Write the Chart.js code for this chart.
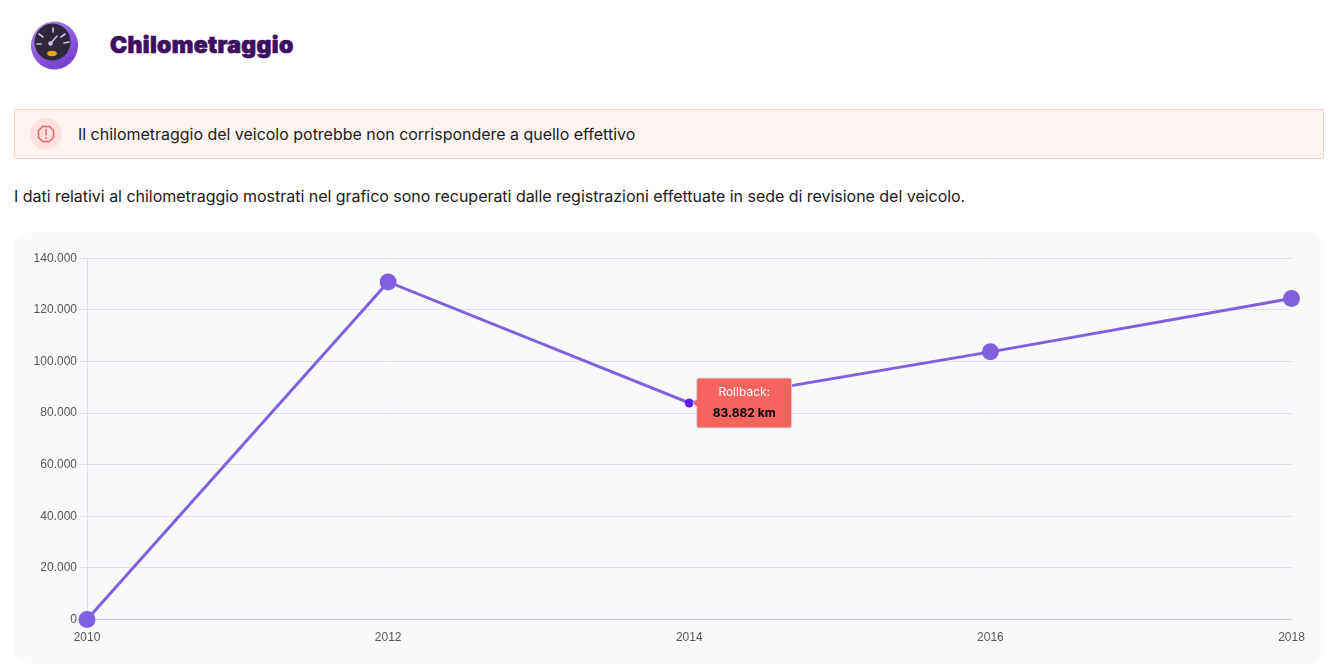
<!DOCTYPE html>
<html lang="it">
<head>
<meta charset="utf-8">
<title>Chilometraggio</title>
<script src="https://cdn.jsdelivr.net/npm/chart.js@4"></script>
<style>
  html, body { margin: 0; padding: 0; background: #fff; overflow: hidden; }
  body { width: 1343px; height: 669px; position: relative; font-family: Inter, sans-serif; color: #1c1a22; }
  .icon { position: absolute; left: 28px; top: 20px; width: 52px; height: 52px; }
  h1 { position: absolute; left: 110px; top: 30px; margin: 0; font: 900 23px/30px Inter, sans-serif; color: #3b1160; -webkit-text-stroke: 0.7px #3b1160; letter-spacing: 0.33px; }
  .alert { position: absolute; left: 14px; top: 109px; width: 1308px; height: 48px; background: #fff4f2; border: 1px solid #fdd0cc; border-radius: 2px; }
  .alert .badge { position: absolute; left: 15px; top: 8px; width: 32px; height: 32px; }
  .alert span { position: absolute; left: 63px; top: 0; line-height: 49px; font-size: 16px; letter-spacing: -0.02px; }
  p { position: absolute; left: 14px; top: 184px; margin: 0; font-size: 16px; line-height: 24px; letter-spacing: -0.03px; }
  .card { position: absolute; left: 14px; top: 232px; width: 1310px; height: 432px; background: #f9fafc; border-radius: 16px; }
  canvas { display: block; }
</style>
</head>
<body>
<svg class="icon" viewBox="0 0 52 52">
  <defs>
    <linearGradient id="ring" x1="0" y1="0" x2="1" y2="1">
      <stop offset="0" stop-color="#b08ee8"/><stop offset="0.55" stop-color="#8a55dc"/><stop offset="1" stop-color="#6a35c4"/>
    </linearGradient>
  </defs>
  <ellipse cx="26.5" cy="25.5" rx="23.5" ry="24" transform="rotate(15 26.5 25.5)" fill="url(#ring)"/>
  <ellipse cx="24.5" cy="22" rx="18" ry="18.5" transform="rotate(15 24.5 22)" fill="#2e2838"/>
  <g stroke="#cdbff0" stroke-width="1.6" stroke-linecap="round">
    <line x1="11" y1="14" x2="15" y2="17"/><line x1="25" y1="8" x2="25" y2="12"/>
    <line x1="37" y1="14" x2="33" y2="17"/><line x1="9" y1="24" x2="13" y2="24"/><line x1="41" y1="22" x2="36" y2="23"/>
    <line x1="23" y1="23" x2="29" y2="16"/>
  </g>
  <circle cx="22.5" cy="23.5" r="2.2" fill="#cdbff0"/>
  <ellipse cx="24" cy="33.5" rx="4.8" ry="2.8" fill="#e5a80f"/>
</svg>
<h1>Chilometraggio</h1>
<div class="alert">
  <svg class="badge" viewBox="0 0 32 32">
    <circle cx="16" cy="16" r="16" fill="#ffe1de"/>
    <path d="M12.6 8.5h6.8l4.1 4.1v6.8l-4.1 4.1h-6.8l-4.1-4.1v-6.8z" fill="none" stroke="#f4615c" stroke-width="1.4" stroke-linejoin="round"/>
    <path d="M16 11.5v5.5" stroke="#f4615c" stroke-width="1.5" stroke-linecap="round"/>
    <circle cx="16" cy="20" r="0.9" fill="#f4615c"/>
  </svg>
  <span>Il chilometraggio del veicolo potrebbe non corrispondere a quello effettivo</span>
</div>
<p>I dati relativi al chilometraggio mostrati nel grafico sono recuperati dalle registrazioni effettuate in sede di revisione del veicolo.</p>
<div class="card"><canvas id="thecanvas" width="1310" height="432"></canvas></div>

<script>
  // km
  const years = ['2010', '2012', '2014', '2016', '2018'];
  const km = [0, 130800, 83882, 103700, 124400];
  const rollbackIndex = 2;
  const rollbackTitle = 'Rollback:';

  function dotted(n) {
    return String(n).replace(/\B(?=(\d{3})+(?!\d))/g, '.');
  }

  const pointcolors = years.map((y, i) => i === rollbackIndex ? '#5a1ff5' : '#8160e0');
  const pointsizes = years.map((y, i) => i === rollbackIndex ? 4.5 : 8.5);

  const mychart = new Chart(document.getElementById('thecanvas'), {
    type: 'line',
    data: {
      labels: years,
      datasets: [{
        label: 'Chilometraggio',
        data: km,
        borderColor: '#8160e0',
        borderWidth: 3,
        tension: 0,
        pointBackgroundColor: pointcolors,
        pointBorderWidth: 0,
        pointRadius: pointsizes,
        pointHoverRadius: pointsizes,
        clip: false
      }]
    },
    options: {
      responsive: false,
      animation: false,
      events: [],
      layout: { padding: { top: 26.2, right: 32.5, left: 0, bottom: 0 } },
      plugins: {
        legend: { display: false },
        tooltip: {
          xAlign: 'left',
          yAlign: 'center',
          displayColors: false,
          backgroundColor: '#f6645e',
          borderColor: '#cfcfd6',
          borderWidth: 1,
          cornerRadius: 2,
          caretSize: 4,
          caretPadding: 3.5,
          padding: { x: 16, y: 7 },
          titleColor: '#ffffff',
          titleFont: { family: 'Inter', size: 12, weight: 'normal' },
          titleAlign: 'center',
          titleMarginBottom: 7,
          bodyColor: '#000000',
          bodyFont: { family: 'Inter', size: 12, weight: 'bold' },
          bodyAlign: 'center',
          callbacks: {
            title: () => rollbackTitle,
            label: (item) => dotted(item.parsed.y) + ' km'
          }
        }
      },
      scales: {
        x: {
          afterFit: (scale) => { scale.height = 44.6; },
          grid: { display: false },
          border: { color: '#c9cbd1' },
          ticks: { color: '#555', font: { family: 'Liberation Sans', size: 12 }, padding: 3, maxRotation: 0 }
        },
        y: {
          min: 0,
          max: 140000,
          afterFit: (scale) => { scale.width = 73; },
          grid: { color: '#dfe1e6', tickLength: 8 },
          border: { color: '#dfe1e6' },
          ticks: {
            stepSize: 20000,
            color: '#555',
            font: { family: 'Liberation Sans', size: 12 },
            padding: 2,
            callback: (v) => dotted(v)
          }
        }
      }
    }
  });

  mychart.tooltip.setActiveElements([{ datasetIndex: 0, index: rollbackIndex }], { x: 0, y: 0 });
  mychart.update();
</script>
</body>
</html>
